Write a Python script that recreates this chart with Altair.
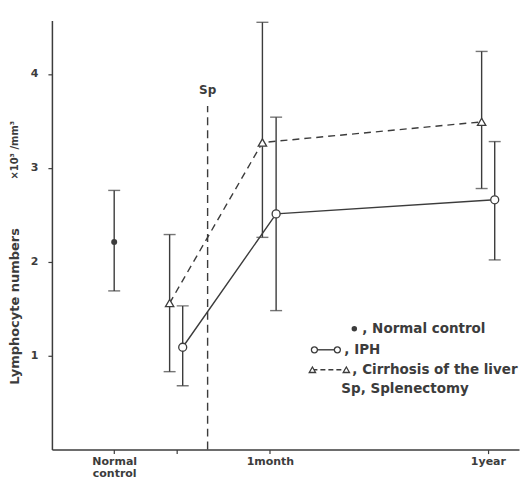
import altair as alt
import pandas as pd

# ---- data ----
tick_pos = [1, 2, 3.5, 7]
normal_x = [1]
normal_mean = [2.21]
normal_lo = [1.69]
normal_hi = [2.76]

iph_x = [2.1, 3.6, 7.11]
iph_mean = [1.09, 2.51, 2.66]
iph_lo = [0.68, 1.48, 2.02]
iph_hi = [1.53, 3.54, 3.28]

cir_x = [1.89, 3.38, 6.9]
cir_mean = [1.56, 3.27, 3.49]
cir_lo = [0.83, 2.26, 2.78]
cir_hi = [2.29, 4.55, 4.24]

sp_x = [2.5]
sp_top = [3.66]

legend_texts = [", Normal control", ", IPH", ", Cirrhosis of the liver", "Sp, Splenectomy"]

INK = "#3c3c3c"
FONT = "DejaVu Sans"

rows = []
for s, xs, m, lo, hi in [("Normal", normal_x, normal_mean, normal_lo, normal_hi),
                         ("IPH", iph_x, iph_mean, iph_lo, iph_hi),
                         ("Cirrhosis", cir_x, cir_mean, cir_lo, cir_hi)]:
    for i in range(len(xs)):
        rows.append({"series": s, "x": xs[i], "mean": m[i], "lo": lo[i], "hi": hi[i], "order": i})
df = pd.DataFrame(rows)

xscale = alt.Scale(domain=[0, 7.5], nice=False, zero=False)
yscale = alt.Scale(domain=[0, 4.57], nice=False)

base = alt.Chart(df)

x_enc = alt.X("x:Q", scale=xscale, axis=alt.Axis(
    values=tick_pos, title=None, grid=False,
    labelExpr="datum.value == 1 ? ['Normal', 'control'] : datum.value == 3.5 ? '1month' : datum.value == 7 ? '1year' : ''",
    labelFont=FONT, labelFontSize=11, labelFontWeight="bold", labelColor=INK, labelPadding=2,
    tickSize=4, tickColor=INK, domainColor=INK, domainWidth=1.5, tickWidth=1.2,
    labelLineHeight=12))
y_enc = alt.Y("mean:Q", scale=yscale, axis=alt.Axis(
    values=[1, 2, 3, 4], format="d", title="Lymphocyte numbers", grid=False,
    labelFont=FONT, labelFontSize=11, labelFontWeight="bold", labelColor=INK, labelPadding=10,
    tickSize=4, tickColor=INK, domainColor=INK, domainWidth=1.5, tickWidth=1.2,
    titleFont=FONT, titleFontSize=13, titleFontWeight="bold", titleColor=INK,
    titleX=-37, titleY=286, titleAlign="center", titleBaseline="middle"))

iph_line = base.transform_filter("datum.series == 'IPH'").mark_line(
    color=INK, strokeWidth=1.4).encode(x=x_enc, y=y_enc, order="order:Q")
cir_line = base.transform_filter("datum.series == 'Cirrhosis'").mark_line(
    color=INK, strokeWidth=1.4, strokeDash=[7, 5]).encode(x="x:Q", y="mean:Q", order="order:Q")

err_rule = base.mark_rule(color=INK, strokeWidth=1.4).encode(x="x:Q", y="lo:Q", y2="hi:Q")
cap_lo = base.mark_tick(orient="horizontal", size=12, thickness=1.4, color=INK).encode(x="x:Q", y="lo:Q")
cap_hi = base.mark_tick(orient="horizontal", size=12, thickness=1.4, color=INK).encode(x="x:Q", y="hi:Q")

pts_normal = base.transform_filter("datum.series == 'Normal'").mark_point(
    shape="circle", filled=True, size=36, color=INK, opacity=1).encode(x="x:Q", y="mean:Q")
pts_iph = base.transform_filter("datum.series == 'IPH'").mark_point(
    shape="circle", filled=True, size=64, fill="white", stroke=INK, strokeWidth=1.3, opacity=1).encode(x="x:Q", y="mean:Q")
pts_cir = base.transform_filter("datum.series == 'Cirrhosis'").mark_point(
    shape="triangle-up", filled=True, size=70, fill="white", stroke=INK, strokeWidth=1.3, opacity=1).encode(x="x:Q", y="mean:Q")

sp_df = pd.DataFrame({"x": sp_x, "top": sp_top, "zero": [0], "label": ["Sp"], "ly": [sp_top[0] + 0.1]})
sp_line = alt.Chart(sp_df).mark_rule(color=INK, strokeWidth=1.4, strokeDash=[8, 5]).encode(
    x="x:Q", y="zero:Q", y2="top:Q")
sp_text = alt.Chart(sp_df).mark_text(font=FONT, fontSize=12, fontWeight="bold", color=INK, baseline="bottom").encode(
    x="x:Q", y="ly:Q", text="label:N")

unit_df = pd.DataFrame({"t": ["×10³ /mm³"]})
unit_text = alt.Chart(unit_df).mark_text(font=FONT, fontSize=10, fontWeight="bold", color=INK, angle=270,
                                         baseline="middle", align="center").encode(
    x=alt.value(-37), y=alt.value(130), text="t:N")

# ---- hand-drawn legend ----
leg_df = pd.DataFrame({"t": legend_texts, "px": [311, 293, 301, 290], "py": [309, 330, 350, 369]})
leg_text = alt.Chart(leg_df).mark_text(font=FONT, fontSize=13.5, fontWeight="bold", color=INK, align="left",
                                       baseline="middle").encode(
    x=alt.X("px:Q", scale=None), y=alt.Y("py:Q", scale=None), text="t:N")

dot_df = pd.DataFrame({"px": [303], "py": [309]})
leg_dot = alt.Chart(dot_df).mark_point(shape="circle", filled=True, size=30, color=INK, opacity=1).encode(
    x=alt.X("px:Q", scale=None), y=alt.Y("py:Q", scale=None))

sym_df = pd.DataFrame({"kind": ["IPH", "IPH", "Cirrhosis", "Cirrhosis"],
                       "px": [263, 286, 261, 295], "py": [330, 330, 350, 350]})
seg_df = pd.DataFrame({"kind": ["IPH", "Cirrhosis"], "x1": [263, 261], "x2": [286, 295], "py": [330, 350]})
leg_seg_solid = alt.Chart(seg_df).transform_filter("datum.kind == 'IPH'").mark_rule(
    color=INK, strokeWidth=1.4).encode(
    x=alt.X("x1:Q", scale=None), x2="x2:Q", y=alt.Y("py:Q", scale=None))
leg_seg_dash = alt.Chart(seg_df).transform_filter("datum.kind == 'Cirrhosis'").mark_rule(
    color=INK, strokeWidth=1.4, strokeDash=[5, 3]).encode(
    x=alt.X("x1:Q", scale=None), x2="x2:Q", y=alt.Y("py:Q", scale=None))
leg_circ = alt.Chart(sym_df).transform_filter("datum.kind == 'IPH'").mark_point(
    shape="circle", filled=True, size=36, fill="white", stroke=INK, strokeWidth=1.3, opacity=1).encode(
    x=alt.X("px:Q", scale=None), y=alt.Y("py:Q", scale=None))
leg_tri = alt.Chart(sym_df).transform_filter("datum.kind == 'Cirrhosis'").mark_point(
    shape="triangle-up", filled=True, size=40, fill="white", stroke=INK, strokeWidth=1.3, opacity=1).encode(
    x=alt.X("px:Q", scale=None), y=alt.Y("py:Q", scale=None))

chart = alt.layer(iph_line, cir_line, sp_line, sp_text, err_rule, cap_lo, cap_hi,
                  pts_normal, pts_iph, pts_cir, unit_text,
                  leg_seg_solid, leg_seg_dash, leg_circ, leg_tri, leg_dot, leg_text).properties(
    width=468, height=430,
    autosize=alt.AutoSizeParams(type="none"),
    padding={"left": 44, "top": 12, "right": 2, "bottom": 30},
    background="white"
).configure_view(stroke=None)

chart.save("out.html", embed_options={"renderer": "svg", "actions": False})
